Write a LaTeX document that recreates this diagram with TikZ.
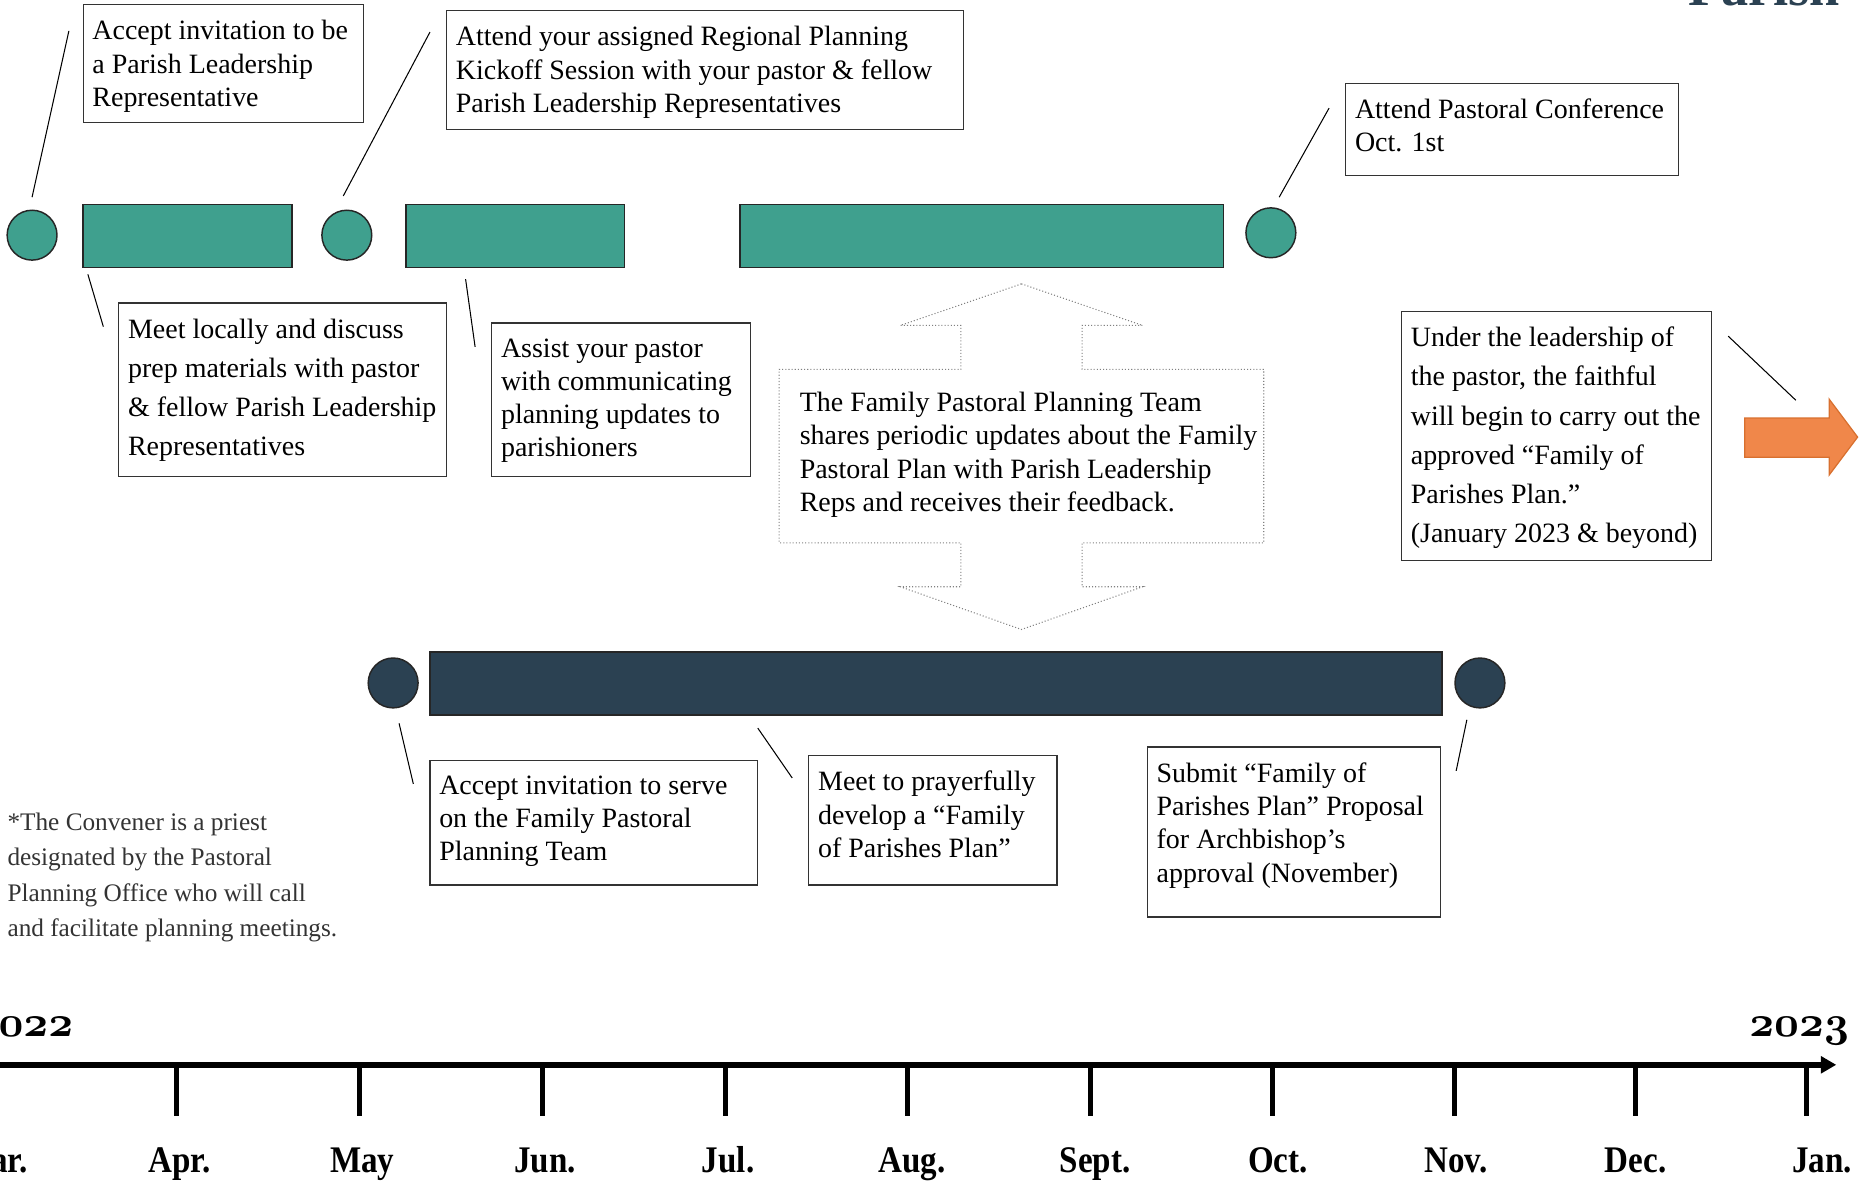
\documentclass[tikz,border=0pt]{standalone}
\usepackage{fontspec}
\setmainfont{Liberation Serif}
\newfontfamily\monthfont[FakeStretch=0.88]{Liberation Serif}
\usepackage{tikz}
\usetikzlibrary{fit,arrows.meta}

\definecolor{tealfill}{HTML}{3FA08E}
\definecolor{navyfill}{HTML}{2B4152}
\definecolor{orangefill}{HTML}{F0874A}
\definecolor{orangeline}{HTML}{D8702F}

\begin{document}
\begin{tikzpicture}[x=0.2mm,y=-0.2mm,
	milestone/.style={circle,draw=black!85,line width=0.7pt,minimum size=8.4mm,inner sep=0pt},
	phasebar/.style={rectangle,draw=black!85,line width=0.7pt,inner sep=0pt},
	boxframe/.style={rectangle,draw=black!80,line width=0.6pt,inner sep=0pt},
	boxtext/.style={anchor=north west,align=left,inner xsep=1.6mm,inner ysep=2.7mm,font=\fontsize{13.4}{15.9}\selectfont},
	boxtextloose/.style={boxtext,font=\fontsize{13.4}{18.8}\selectfont},
	leader/.style={line width=0.5pt},
	monthlabel/.style={anchor=base,inner sep=0pt,font=\monthfont\bfseries\fontsize{18}{20}\selectfont},
	yearlabel/.style={anchor=base east,inner sep=0pt,font=\fontsize{21}{24}\usefont{OML}{cmm}{b}{it}}]
	\useasboundingbox (0,0) rectangle (1566,994.3);
	
	%title (cut at the top)
	\node[anchor=base east,inner sep=0pt,text=navyfill,font=\bfseries\fontsize{26}{30}\selectfont] (title) at (1549,5) {Parish};
	
	%parish leadership row
	\node[milestone,fill=tealfill] (invitedot) at (27,198) {};
	\node[phasebar,fill=tealfill,fit={(70,172) (246,225)}] (prepbar) {};
	\node[milestone,fill=tealfill] (kickoffdot) at (292,198) {};
	\node[phasebar,fill=tealfill,fit={(342,172) (526,225)}] (assistbar) {};
	\node[phasebar,fill=tealfill,fit={(623,172) (1030,225)}] (feedbackbar) {};
	\node[milestone,fill=tealfill] (conferencedot) at (1070,196) {};
	
	%planning team row
	\node[milestone,fill=navyfill] (servedot) at (331,575) {};
	\node[phasebar,fill=navyfill,fit={(362,549) (1214,602)}] (planbar) {};
	\node[milestone,fill=navyfill] (submitdot) at (1246,575) {};
	
	%boxes - top
	\node[boxframe,fit={(70,4) (306,103)}] (invitebox) {};
	\node[boxtext] (invitetext) at (invitebox.north west) {Accept invitation to be\\a Parish Leadership\\Representative};
	\node[boxframe,fit={(376,9) (811,109)}] (kickoffbox) {};
	\node[boxtext] (kickofftext) at (kickoffbox.north west) {Attend your assigned Regional Planning\\Kickoff Session with your pastor \& fellow\\Parish Leadership Representatives};
	\node[boxframe,fit={(1133,70) (1413,148)}] (conferencebox) {};
	\node[boxtext] (conferencetext) at (conferencebox.north west) {Attend Pastoral Conference\\Oct. 1st};
	%
	\node[boxframe,fit={(100,255) (376,401)}] (prepbox) {};
	\node[boxtextloose] (preptext) at (prepbox.north west) {Meet locally and discuss\\prep materials with pastor\\\& fellow Parish Leadership\\Representatives};
	\node[boxframe,fit={(414,272) (632,401)}] (assistbox) {};
	\node[boxtext] (assisttext) at (assistbox.north west) {Assist your pastor\\with communicating\\planning updates to\\parishioners};
	\node[boxframe,fit={(1180,262) (1441,472)}] (beyondbox) {};
	\node[boxtextloose] (beyondtext) at (beyondbox.north west) {Under the leadership of\\the pastor, the faithful\\will begin to carry out the\\approved “Family of\\Parishes Plan.”\\(January 2023 \& beyond)};
	
	%boxes - bottom
	\node[boxframe,fit={(362,640) (638,745)}] (servebox) {};
	\node[boxtext] (servetext) at (servebox.north west) {Accept invitation to serve\\on the Family Pastoral\\Planning Team};
	\node[boxframe,fit={(681,636) (890,745)}] (prayerbox) {};
	\node[boxtext] (prayertext) at (prayerbox.north west) {Meet to prayerfully\\develop a “Family\\of Parishes Plan”};
	\node[boxframe,fit={(966,629) (1213,772)}] (submitbox) {};
	\node[boxtext] (submittext) at (submitbox.north west) {Submit “Family of\\Parishes Plan” Proposal\\for Archbishop’s\\approval (November)};
	
	%leader lines
	\coordinate (inviteA) at (27,166);     \coordinate (inviteB) at (58,26);
	\coordinate (kickoffA) at (289,165);   \coordinate (kickoffB) at (362,27);
	\coordinate (prepA) at (74,231);       \coordinate (prepB) at (87,275);
	\coordinate (assistA) at (392,235);    \coordinate (assistB) at (400,292);
	\coordinate (conferenceA) at (1077,166); \coordinate (conferenceB) at (1119,91);
	\coordinate (beyondA) at (1455,283);   \coordinate (beyondB) at (1512,337);
	\coordinate (serveA) at (336,609);     \coordinate (serveB) at (348,660);
	\coordinate (prayerA) at (638,613);    \coordinate (prayerB) at (667,655);
	\coordinate (submitA) at (1235,606);   \coordinate (submitB) at (1226,649);
	\foreach \p in {invite,kickoff,prep,assist,conference,beyond,serve,prayer,submit}
		\draw[leader] (\p A) -- (\p B);
	
	%up-down arrow callout
	\draw[gray,densely dotted,line width=0.5pt,fill=white] (860,239) -- (962,274) -- (911,274) -- (911,311) -- (1064,311) -- (1064,457) -- (911,457) -- (911,494) -- (962,494) -- (860,530) -- (758,494) -- (809,494) -- (809,457) -- (656,457) -- (656,311) -- (809,311) -- (809,274) -- (758,274) -- cycle;
	\node[anchor=north west,align=left,inner sep=0pt,font=\fontsize{13.4}{15.9}\selectfont] (updatestext) at (673,330) {The Family Pastoral Planning Team\\shares periodic updates about the Family\\Pastoral Plan with Parish Leadership\\Reps and receives their feedback.};
	
	%orange arrow
	\draw[fill=orangefill,draw=orangeline,line width=0.6pt] (1469,352) -- (1540,352) -- (1540,336) -- (1564,368) -- (1540,400) -- (1540,385) -- (1469,385) -- cycle;
	
	%footnote
	\node[anchor=north west,align=left,inner sep=0pt,text=black!80,font=\fontsize{12.1}{17}\selectfont] (convener) at (6,684) {*The Convener is a priest\\designated by the Pastoral\\Planning Office who will call\\and facilitate planning meetings.};
	
	%timeline
	\coordinate (axisstart) at (-10,896.5);
	\coordinate (axisend) at (1546,896.5);
	\draw[line width=3.1pt,-{Triangle[length=2.6mm,width=2.8mm]}] (axisstart) -- (axisend);
	\foreach \x in {149,303,457,611,764,918,1071,1225,1377,1521}
		\draw[line width=2.4pt] (\x,896.5) -- (\x,940);
	\foreach \x/\m [count=\i] in {-5/Mar.,151/Apr.,305/May,459/Jun.,613/Jul.,768/Aug.,922/Sept.,1076/Oct.,1226/Nov.,1377/Dec.,1534/Jan.}
		\node[monthlabel] (month\i) at (\x,987) {\m};
	\node[yearlabel] (startyear) at (62,873) {2022};
	\node[yearlabel] (endyear) at (1557,873) {2023};
	
	%\draw[help lines] (0,0) grid (1566,994);
\end{tikzpicture}
\end{document}
